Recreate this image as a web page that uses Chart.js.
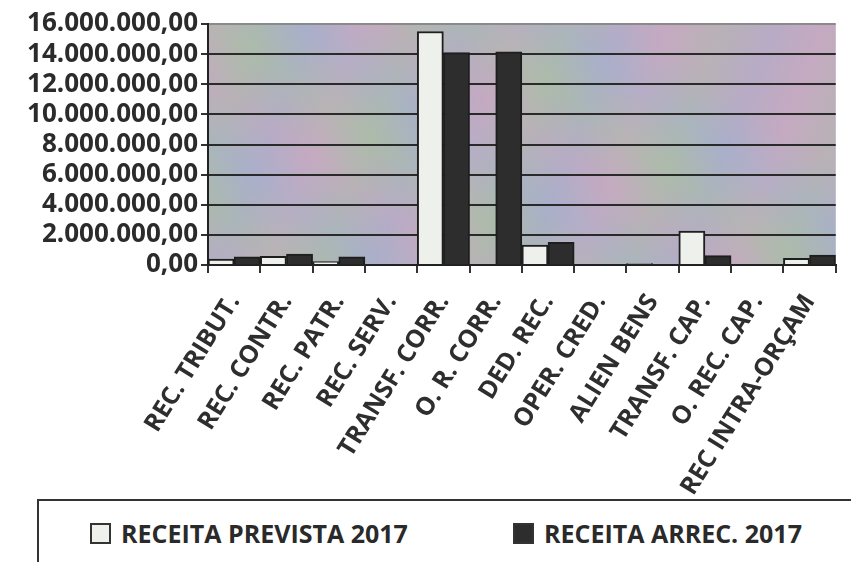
<!DOCTYPE html>
<html>
<head>
<meta charset="utf-8">
<script src="https://cdn.jsdelivr.net/npm/chart.js@4.4.1/dist/chart.umd.min.js"></script>
<style>
  html, body { margin: 0; padding: 0; background: #fff; }
  #wrap { position: relative; width: 851px; height: 562px; overflow: hidden; }
  #legend {
    position: absolute; left: 37px; top: 499px; width: 830px; height: 80px;
    border-top: 2px solid #333; border-left: 2px solid #333; background: #fff;
    font-family: "Open Sans", sans-serif; font-weight: 700; font-size: 25px; color: #2a2a2a;
  }
  .item { position: absolute; top: 15px; display: flex; align-items: center; white-space: nowrap; }
  .box { width: 17px; height: 17px; border: 2px solid #333; margin-right: 10px; }
</style>
</head>
<body>
<div id="wrap">
  <canvas id="chart" width="851" height="562"></canvas>
  <div id="legend"></div>
</div>
<script>
// ─── Dados ────────────────────────────────────────────────
const categorias = [
  'REC. TRIBUT.', 'REC. CONTR.', 'REC. PATR.', 'REC. SERV.',
  'TRANSF. CORR.', 'O. R. CORR.', 'DED. REC.', 'OPER. CRED.',
  'ALIEN BENS', 'TRANSF. CAP.', 'O. REC. CAP.', 'REC INTRA-ORÇAM',
];
const receitaPrevista = [400000, 580000, 220000, 0, 15500000, 0, 1330000, 0, 100000, 2250000, 0, 450000];
const receitaArrecadada = [550000, 730000, 550000, 0, 14100000, 14150000, 1500000, 0, 0, 620000, 0, 660000];
const yTicks = [0, 2000000, 4000000, 6000000, 8000000, 10000000, 12000000, 14000000, 16000000];

const series = [
  { label: 'RECEITA PREVISTA 2017', data: receitaPrevista, color: '#eef0ec' },
  { label: 'RECEITA ARREC. 2017', data: receitaArrecadada, color: '#2d2d2d' },
];

// formato 16.000.000,00
function fmt(v) {
  const inteiro = Math.round(v).toString().replace(/\B(?=(\d{3})+(?!\d))/g, '.');
  return inteiro + ',00';
}

// ─── Fundo "texturizado" da área do gráfico ───────────────
const plotBackground = {
  id: 'plotBackground',
  beforeDraw(chart) {
    const { ctx, chartArea: a } = chart;
    const w = a.right - a.left, h = a.bottom - a.top;
    ctx.save();
    const g = ctx.createLinearGradient(a.left, a.bottom, a.left + 260, a.top - 120);
    const cols = ['#c4a9c0', '#adbba8', '#aab0c9'];
    const n = 9;
    for (let i = 0; i <= n; i++) g.addColorStop(i / n, cols[i % 3]);
    ctx.fillStyle = g;
    ctx.fillRect(a.left, a.top, w, h);
    // segunda camada, outra direção
    const g2 = ctx.createLinearGradient(a.left, a.top, a.right, a.bottom);
    const cols2 = ['rgba(198,170,194,0.45)', 'rgba(170,188,170,0.45)', 'rgba(168,174,204,0.45)'];
    const m = 14;
    for (let i = 0; i <= m; i++) g2.addColorStop(i / m, cols2[i % 3]);
    ctx.fillStyle = g2;
    ctx.fillRect(a.left, a.top, w, h);
    ctx.restore();
  }
};

new Chart(document.getElementById('chart'), {
  type: 'bar',
  data: {
    labels: categorias,
    datasets: series.map(s => ({
      label: s.label,
      data: s.data,
      backgroundColor: s.color,
      borderColor: '#1e1e1e',
      borderWidth: 2,
      borderSkipped: 'start',
      barPercentage: 1,
      categoryPercentage: 1,
    }))
  },
  options: {
    responsive: false,
    animation: false,
    layout: { padding: { top: 24, right: 0, left: 0, bottom: 0 } },
    plugins: { legend: { display: false }, tooltip: { enabled: false } },
    scales: {
      x: {
        afterFit(scale) { scale.height = 562 - 265; },
        grid: { display: true, drawOnChartArea: false, offset: true, tickLength: 8, tickColor: '#333', lineWidth: 2 },
        border: { color: '#222', width: 2 },
        ticks: {
          autoSkip: false, minRotation: 58, maxRotation: 58, padding: 16,
          color: '#2e2e2e', font: { family: 'Open Sans', weight: 'bold', size: 25 },
        },
      },
      y: {
        min: 0, max: 16000000,
        afterFit(scale) { scale.width = 208; },
        afterBuildTicks(scale) { scale.ticks = yTicks.map(v => ({ value: v })); },
        grid: {
          color: ctx => ctx.tick && ctx.tick.value === 16000000 ? '#8a8a8a' : '#2a2a2a',
          lineWidth: 2, tickLength: 7, tickColor: '#333',
        },
        border: { color: '#222', width: 2 },
        ticks: {
          autoSkip: false, padding: 3, color: '#2b2b2b',
          font: { family: 'Open Sans', weight: 'bold', size: 26, lineHeight: 1 },
          callback: v => fmt(v),
        },
      },
    },
  },
  plugins: [plotBackground],
});

// ─── Legenda em HTML ──────────────────────────────────────
const legendPos = [51, 474];
document.getElementById('legend').innerHTML = series.map((s, i) => `
  <div class="item" style="left:${legendPos[i]}px">
    <span class="box" style="background:${s.color}"></span>${s.label}
  </div>`).join('');
</script>
</body>
</html>
